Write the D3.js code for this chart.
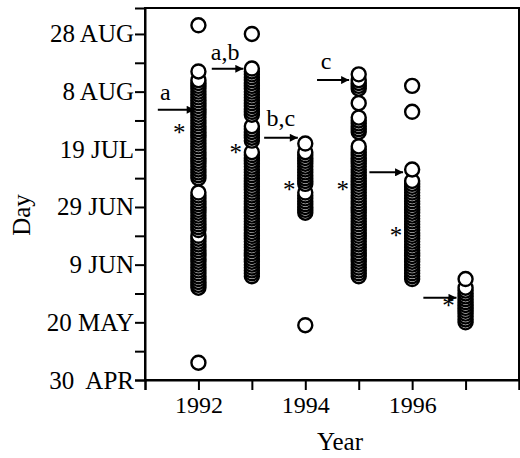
<!DOCTYPE html>
<html><head><meta charset="utf-8">
<script src="https://cdn.jsdelivr.net/npm/d3@7/dist/d3.min.js"></script>
<style>body{margin:0;background:#fff}svg{display:block}text{font-family:"Liberation Serif","Times New Roman",serif;fill:#000}</style>
</head><body><svg id="c" width="520" height="458"></svg>
<script>
// days counted from 30 APR (day 0)
const years = [1992, 1993, 1994, 1995, 1996, 1997];
const days1992 = [123,107,104,103,102,101,100,99,98,97,96,95,94,93,92,91,90,89,88,87,86,85,84,83,82,81,80,79,78,77,76,75,74,73,72,71,70,65,64,63,62,61,60,59,58,57,56,55,54,53,52,50,49,48,47,46,45,44,43,42,41,40,39,38,37,36,35,34,33,32,6];
const days1993 = [120,108,107,106,105,104,103,102,101,100,99,98,97,96,95,94,93,92,88,87,86,85,84,83,79,78,77,76,75,74,73,72,71,70,69,68,67,66,65,64,63,62,61,60,59,58,57,56,55,54,53,52,51,50,49,48,47,46,45,44,43,42,41,40,39,38,37,36];
const days1994 = [82,79,78,77,76,75,74,73,72,71,70,69,68,65,64,63,62,61,60,59,58,19];
const days1995 = [106,104,103,102,101,96,91,90,89,88,87,86,81,80,79,78,77,76,75,74,73,72,71,70,69,68,67,66,65,64,63,62,61,60,59,58,57,56,55,54,53,52,51,50,49,48,47,46,45,44,43,42,41,40,39,38,37,36];
const days1996 = [102,93,73,69,68,67,66,65,64,63,62,61,60,59,58,57,56,55,54,53,52,51,50,49,48,47,46,45,44,43,42,41,40,39,38,37,36,35];
const days1997 = [35,32,31,30,29,28,27,26,25,24,23,22,21,20];
const allDays = [days1992, days1993, days1994, days1995, days1996, days1997];

const yTickDays = [0,10,20,30,40,50,60,70,80,90,100,110,120];
const yTickLabels = ["30  APR","","20 MAY","","9 JUN","","29 JUN","","19 JUL","","8 AUG","","28 AUG"];
const xTickYears = [1991,1992,1993,1994,1995,1996,1997,1998];
const xTickLabels = ["","1992","","1994","","1996","",""];

// annotations: arrow day level, start/end offsets in years from the column
const arrowDays = [93.7, 107.9, 84, 104, 72, 28.5];
const arrowFrom = [-0.76, -0.75, -0.77, -0.78, -0.8, -0.79];
const arrowTo = [-0.07, -0.16, -0.14, -0.18, -0.17, -0.17];
const arrowLabels = ["a", "a,b", "b,c", "c", "", ""];
const labelDx = [-0.62, -0.5, -0.46, -0.61, 0, 0];
const labelDays = [97, 111, 88, 108, 0, 0];
const starDx = [-0.36, -0.3, -0.3, -0.3, -0.3, -0.32];
const starDays = [83, 76, 63, 63, 47, 23];

const svg = d3.select("#c");
const L = 145, R = 519, T = 8, B = 380;
const x = d3.scaleLinear().domain([1991, 1998]).range([L, R]);
const y = d3.scaleLinear().domain([0, 129]).range([B, T]);

// frame
svg.append("rect").attr("x", L).attr("y", T).attr("width", R - L).attr("height", B - T)
  .attr("fill", "none").attr("stroke", "#000").attr("stroke-width", 2);

const yAxis = d3.axisLeft(y).tickValues(yTickDays).tickSize(10).tickPadding(1)
  .tickFormat((d, i) => yTickLabels[i]);
const gy = svg.append("g").attr("transform", `translate(${L},0)`).call(yAxis);
gy.select(".domain").attr("stroke-width", 2);
gy.selectAll(".tick line").attr("stroke-width", 2);
gy.selectAll("text").attr("font-size", 25).style("white-space", "pre").attr("font-family", "Liberation Serif");

const xAxis = d3.axisBottom(x).tickValues(xTickYears).tickSize(10).tickPadding(6)
  .tickFormat((d, i) => xTickLabels[i]);
const gx = svg.append("g").attr("transform", `translate(0,${B})`).call(xAxis);
gx.select(".domain").attr("stroke-width", 2);
gx.selectAll(".tick line").attr("stroke-width", 2);
gx.selectAll("text").attr("font-size", 24).attr("font-family", "Liberation Serif");

svg.append("text").attr("x", 340).attr("y", 450).attr("text-anchor", "middle")
  .attr("font-size", 25).text("Year");
svg.append("text").attr("transform", "translate(30,215) rotate(-90)").attr("text-anchor", "middle")
  .attr("font-size", 25).text("Day");

// points, drawn bottom to top
years.forEach((yr, i) => {
  const pts = allDays[i].slice().sort((a, b) => a - b);
  svg.append("g").selectAll("circle").data(pts).join("circle")
    .attr("cx", x(yr)).attr("cy", d => y(d)).attr("r", 7)
    .attr("fill", "#fff").attr("stroke", "#000").attr("stroke-width", 2.4);
});

// arrows
const defs = svg.append("defs");
defs.append("marker").attr("id", "ah").attr("viewBox", "0 0 10 10").attr("refX", 10).attr("refY", 5)
  .attr("markerWidth", 12).attr("markerHeight", 8).attr("markerUnits", "userSpaceOnUse").attr("orient", "auto")
  .append("path").attr("d", "M0,0L10,5L0,10Z").attr("fill", "#000");
years.forEach((yr, i) => {
  svg.append("line").attr("x1", x(yr + arrowFrom[i])).attr("x2", x(yr + arrowTo[i]))
    .attr("y1", y(arrowDays[i])).attr("y2", y(arrowDays[i]))
    .attr("stroke", "#000").attr("stroke-width", 2).attr("marker-end", "url(#ah)");
  if (arrowLabels[i]) {
    svg.append("text").attr("x", x(yr + labelDx[i])).attr("y", y(labelDays[i]))
      .attr("text-anchor", "middle").attr("font-size", 24).text(arrowLabels[i]);
  }
  svg.append("text").attr("x", x(yr + starDx[i])).attr("y", y(starDays[i]))
    .attr("text-anchor", "middle").attr("font-size", 25).text("*");
});
</script></body></html>
